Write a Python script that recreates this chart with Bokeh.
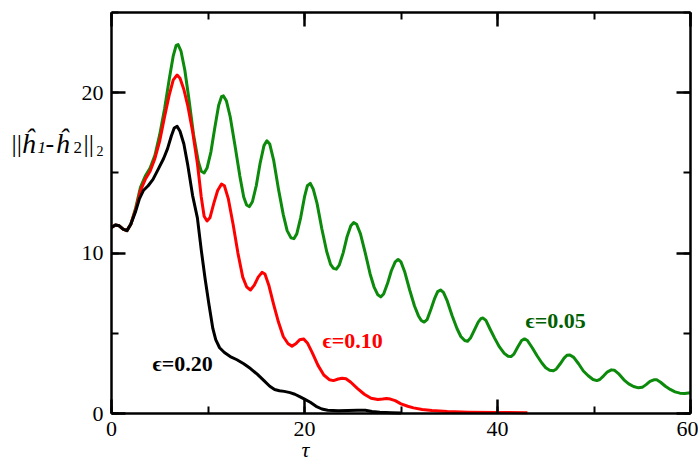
from bokeh.plotting import figure
from bokeh.models import Label, LinearAxis, Range1d, SingleIntervalTicker
from bokeh.embed import file_html
from bokeh.resources import INLINE

# ---- data ----
t_005 = [0, 0.4, 0.8, 1.2, 1.6, 2.0, 2.5, 3.0, 3.5, 4.0, 4.5, 5.0, 5.5, 6.0, 6.4, 6.7, 6.9, 7.2, 7.6, 8.0,
         8.5, 9.0, 9.3, 9.6, 9.9, 10.3, 10.7, 11.1, 11.4, 11.6, 11.9, 12.3, 12.8, 13.3, 13.7, 14.0, 14.3, 14.6,
         15.0, 15.4, 15.8, 16.1, 16.4, 16.8, 17.3, 17.8, 18.2, 18.6, 18.9, 19.2, 19.6, 20.0, 20.3, 20.6, 20.9,
         21.3, 21.8, 22.3, 22.7, 23.0, 23.3, 23.6, 24.0, 24.4, 24.8, 25.1, 25.4, 25.8, 26.3, 26.8, 27.2, 27.6,
         27.9, 28.2, 28.6, 29.0, 29.4, 29.7, 30.0, 30.4, 30.9, 31.4, 31.8, 32.1, 32.4, 32.7, 33.1, 33.5, 33.8,
         34.1, 34.4, 34.8, 35.3, 35.8, 36.2, 36.6, 36.9, 37.2, 37.6, 38.0, 38.3, 38.5, 38.8, 39.2, 39.7, 40.2,
         40.7, 41.1, 41.4, 41.7, 42.1, 42.5, 42.8, 43.1, 43.6, 44.1, 44.6, 45.0, 45.4, 45.8, 46.1, 46.5, 46.9,
         47.2, 47.5, 47.9, 48.4, 48.9, 49.4, 49.9, 50.3, 50.6, 51.0, 51.4, 51.8, 52.1, 52.6, 53.1, 53.6, 54.1,
         54.6, 55.0, 55.4, 55.8, 56.2, 56.5, 56.9, 57.4, 57.9, 58.4, 58.9, 59.4, 60.0]
v_005 = [11.6, 11.75, 11.7, 11.5, 11.4, 11.8, 12.8, 14.1, 14.8, 15.3, 16.1, 17.4, 19.0, 20.9, 22.3, 22.95, 23.0, 22.6, 21.4, 19.7,
         17.4, 15.7, 15.1, 15.0, 15.3, 16.3, 17.8, 19.2, 19.75, 19.8, 19.5, 18.5, 16.7, 14.8, 13.5, 13.0, 12.9, 13.2,
         14.2, 15.6, 16.7, 17.0, 16.8, 15.8, 14.0, 12.4, 11.4, 10.95, 10.9, 11.2, 12.2, 13.5, 14.2, 14.35, 14.0,
         13.1, 11.5, 10.1, 9.3, 9.05, 9.0, 9.25, 10.0, 11.0, 11.7, 11.9, 11.8, 11.2, 10.0, 8.7, 7.9, 7.4,
         7.27, 7.45, 8.1, 8.9, 9.45, 9.6, 9.45, 8.8, 7.7, 6.7, 6.1, 5.8, 5.7, 5.85, 6.5, 7.2, 7.6,
         7.7, 7.55, 7.0, 6.1, 5.3, 4.8, 4.55, 4.5, 4.7, 5.2, 5.7, 5.93, 5.95, 5.8, 5.3, 4.7, 4.15,
         3.75, 3.57, 3.55, 3.7, 4.15, 4.55, 4.65, 4.55, 4.1, 3.6, 3.15, 2.85, 2.7, 2.67, 2.78, 3.1, 3.45,
         3.63, 3.65, 3.5, 3.1, 2.65, 2.35, 2.12, 2.05, 2.12, 2.35, 2.6, 2.72, 2.7, 2.45, 2.1, 1.85, 1.68,
         1.6, 1.63, 1.8, 2.0, 2.1, 2.1, 1.95, 1.7, 1.5, 1.35, 1.27, 1.25, 1.3]

t_010 = [0, 0.4, 0.8, 1.2, 1.6, 2.0, 2.5, 3.0, 3.5, 4.0, 4.5, 5.0, 5.5, 6.0, 6.4, 6.8, 7.1, 7.5, 7.9, 8.4,
         8.9, 9.3, 9.6, 9.9, 10.2, 10.6, 11.0, 11.4, 11.7, 12.1, 12.6, 13.1, 13.6, 14.0, 14.4, 14.8, 15.2, 15.6,
         15.9, 16.3, 16.8, 17.3, 17.8, 18.3, 18.7, 19.1, 19.5, 19.9, 20.3, 20.8, 21.4, 22.0, 22.6, 23.0, 23.5,
         23.9, 24.3, 24.8, 25.5, 26.2, 26.9, 27.6, 28.1, 28.5, 28.9, 29.4, 30.0, 30.7, 31.3, 32.2, 33.2, 34.8,
         37.0, 40.0, 43.1]
v_010 = [11.6, 11.75, 11.7, 11.5, 11.4, 11.8, 12.7, 13.9, 14.6, 15.1, 15.9, 17.0, 18.5, 19.9, 20.8, 21.1, 20.9, 20.2, 19.2, 17.6,
         15.6, 13.5, 12.3, 12.0, 12.2, 13.1, 13.9, 14.3, 14.2, 13.4, 11.8, 10.0, 8.5, 7.9, 7.7, 8.0, 8.5, 8.8,
         8.7, 8.0, 6.8, 5.7, 4.8, 4.35, 4.2, 4.35, 4.6, 4.65, 4.4, 3.8, 3.0, 2.4, 2.1, 2.05, 2.15,
         2.2, 2.17, 1.95, 1.55, 1.2, 0.95, 0.87, 0.9, 0.93, 0.9, 0.8, 0.6, 0.45, 0.35, 0.25, 0.18, 0.12,
         0.08, 0.06, 0.05]

t_020 = [0, 0.4, 0.8, 1.2, 1.6, 2.0, 2.5, 2.9, 3.3, 3.8, 4.3, 4.9, 5.4, 5.8, 6.2, 6.5, 6.8, 7.1, 7.5, 7.9,
         8.4, 8.9, 9.3, 9.7, 10.1, 10.5, 10.8, 11.2, 11.7, 12.3, 13.0, 13.7, 14.4, 15.1, 15.8, 16.4, 16.9, 17.4,
         17.9, 18.5, 19.0, 19.5, 20.0, 20.6, 21.2, 21.8, 22.4, 23.5, 24.5, 25.5, 26.3, 27.0, 27.8, 29.0, 30.0]
v_020 = [11.6, 11.75, 11.7, 11.5, 11.4, 11.8, 12.6, 13.4, 13.9, 14.2, 14.6, 15.3, 15.9, 16.5, 17.3, 17.8, 17.9, 17.6, 16.8, 15.5,
         13.6, 12.2, 10.2, 8.4, 6.8, 5.3, 4.6, 4.1, 3.8, 3.55, 3.35, 3.1, 2.8, 2.45, 2.05, 1.7, 1.5, 1.42,
         1.38, 1.3, 1.2, 1.05, 0.9, 0.7, 0.45, 0.28, 0.2, 0.17, 0.18, 0.2, 0.2, 0.13, 0.08, 0.05, 0.03]

x_lim = (0, 60)
y_lim = (0, 25)
x_tick_step = 20
y_tick_step = 10

# canvas geometry: frame (0..60, 0..25) sits at px x 111..690, y 12..413
W, H = 698, 458
FX0, FX1, FY0, FY1 = 111, 690, 413, 12
sx = (FX1 - FX0) / (x_lim[1] - x_lim[0])
sy = (FY0 - FY1) / (y_lim[1] - y_lim[0])
xr = Range1d(x_lim[0] - FX0 / sx, x_lim[1] + (W - FX1) / sx)
yr = Range1d(y_lim[0] - (H - FY0) / sy, y_lim[1] + FY1 / sy)

p = figure(width=W, height=H, output_backend="svg", toolbar_location=None,
           x_range=xr, y_range=yr,
           min_border_left=0, min_border_right=0, min_border_top=0, min_border_bottom=0)
p.grid.visible = False
p.background_fill_color = "white"
p.border_fill_color = "white"
p.outline_line_color = None

serif = "Liberation Serif"

def style(ax, labels=True):
    ax.axis_line_width = 2.5
    ax.axis_line_color = "black"
    ax.major_tick_in = 14
    ax.major_tick_out = 0
    ax.minor_tick_in = 7
    ax.minor_tick_out = 0
    ax.major_tick_line_width = 2.5
    ax.minor_tick_line_width = 2
    ax.major_label_text_font = serif
    ax.major_label_text_font_size = "22px"
    ax.major_label_standoff = 8
    if labels:
        ax.major_label_text_color = "black"
    else:
        ax.major_label_text_color = None

p.xaxis.ticker = SingleIntervalTicker(interval=x_tick_step, num_minor_ticks=2)
p.yaxis.ticker = SingleIntervalTicker(interval=y_tick_step, num_minor_ticks=2)
style(p.xaxis[0])
style(p.yaxis[0])
p.xaxis.fixed_location = y_lim[0]
p.yaxis.fixed_location = x_lim[0]
p.xaxis.bounds = x_lim
p.yaxis.bounds = y_lim

top = LinearAxis(ticker=SingleIntervalTicker(interval=x_tick_step, num_minor_ticks=2),
                 fixed_location=y_lim[1], bounds=x_lim)
right = LinearAxis(ticker=SingleIntervalTicker(interval=y_tick_step, num_minor_ticks=2),
                   fixed_location=x_lim[1], bounds=y_lim)
style(top, labels=False)
style(right, labels=False)
p.add_layout(top, "above")
p.add_layout(right, "right")

p.line(t_005, v_005, line_color="#0b8a0b", line_width=3, line_join="round")
p.line(t_010, v_010, line_color="#ff0000", line_width=3, line_join="round")
p.line(t_020, v_020, line_color="black", line_width=3, line_join="round")

def px2t(px):
    return x_lim[0] + (px - FX0) / sx

def py2v(py):
    return y_lim[0] + (FY0 - py) / sy

def lab(x, y, text, color, size, style_="normal", align="left", baseline="middle"):
    p.add_layout(Label(x=x, y=y, text=text, text_color=color, text_font=serif,
                       text_font_size=size, text_font_style=style_, text_align=align,
                       text_baseline=baseline))

lab(px2t(152), py2v(363), "\u03f5=0.20", "black", "22px", "bold")
lab(px2t(322), py2v(340), "\u03f5=0.10", "#ff0000", "22px", "bold")
lab(px2t(525), py2v(320), "\u03f5=0.05", "#006000", "22px", "bold")

# y-axis label  ||h1-h2||2
lab(px2t(11), py2v(143), "||", "black", "26px", "normal", baseline="alphabetic")
lab(px2t(21), py2v(143), "\u0125", "black", "28px", "italic", baseline="alphabetic")
lab(px2t(37), py2v(147), "1", "black", "17px", "italic", baseline="alphabetic")
lab(px2t(45), py2v(143), "-", "black", "26px", "normal", baseline="alphabetic")
lab(px2t(55), py2v(143), "\u0125", "black", "28px", "italic", baseline="alphabetic")
lab(px2t(73), py2v(147), "2", "black", "17px", "normal", baseline="alphabetic")
lab(px2t(83), py2v(143), "||", "black", "26px", "normal", baseline="alphabetic")
lab(px2t(96), py2v(150), "2", "black", "14px", "normal", baseline="alphabetic")

# x-axis label tau
lab(px2t(305), py2v(449), "\u03c4", "black", "22px", "italic", align="center", baseline="alphabetic")

open("out.html", "w").write(file_html(p, INLINE))
